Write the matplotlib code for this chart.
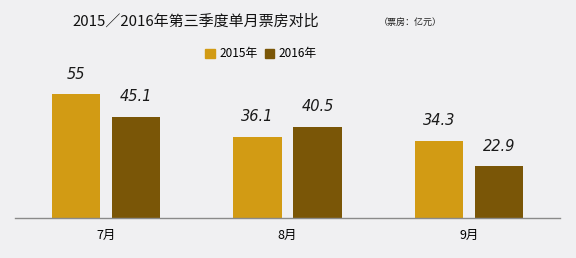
import matplotlib
matplotlib.use("Agg")
import numpy as np
import matplotlib.pyplot as plt
from matplotlib.patches import Patch

plt.rcParams['font.family'] = ['Noto Sans CJK SC', 'DejaVu Sans']

# data
months = ["7月", "8月", "9月"]
box_2015 = [55, 36.1, 34.3]
box_2016 = [45.1, 40.5, 22.9]
series_names = ["2015年", "2016年"]

C2015 = "#D29B14"
C2016 = "#7A5607"
BG = "#F0F0F2"

fig = plt.figure(figsize=(5.76, 2.58), dpi=100)
fig.patch.set_facecolor(BG)
ax = fig.add_axes([15 / 576, 40 / 258, 545 / 576, 148 / 258])
ax.set_facecolor(BG)

x = np.arange(len(months))
w = 0.267
off = 0.165
b1 = ax.bar(x - off, box_2015, w, color=C2015)
b2 = ax.bar(x + off, box_2016, w, color=C2016)

# value labels above the bars
for bars, vals in ((b1, box_2015), (b2, box_2016)):
    for b, v in zip(bars, vals):
        ax.annotate(f"{v:g}", (b.get_x() + b.get_width() / 2, v),
                    xytext=(0, 9), textcoords="offset points",
                    ha="center", va="bottom", fontsize=10.5,
                    fontstyle="italic", family="DejaVu Sans", color="#1a1a1a")

ax.set_xlim(-0.5, 2.5)
ax.set_ylim(0, 65.8)
ax.set_xticks(x)
ax.set_xticklabels(months, fontsize=9)
ax.tick_params(axis="x", length=0, pad=8)
ax.set_yticks([])
for s in ("top", "right", "left"):
    ax.spines[s].set_visible(False)
ax.spines["bottom"].set_color("#8a8a8a")
ax.spines["bottom"].set_linewidth(1.0)

fig.text(196 / 576, 1 - 22 / 258, "2015／2016年第三季度单月票房对比",
         ha="center", va="center", fontsize=10.8, color="#111")
fig.text(410 / 576, 1 - 22 / 258, "（票房：亿元）",
         ha="center", va="center", fontsize=6.5, color="#222")

handles = [Patch(color=C2015), Patch(color=C2016)]
fig.legend(handles, series_names, loc="center", bbox_to_anchor=(261 / 576, 1 - 54 / 258),
           ncol=2, frameon=False, fontsize=8.5, handlelength=0.8, handleheight=0.8,
           handletextpad=0.4, columnspacing=0.6)

fig.savefig("out.png", dpi=100, facecolor=BG)
